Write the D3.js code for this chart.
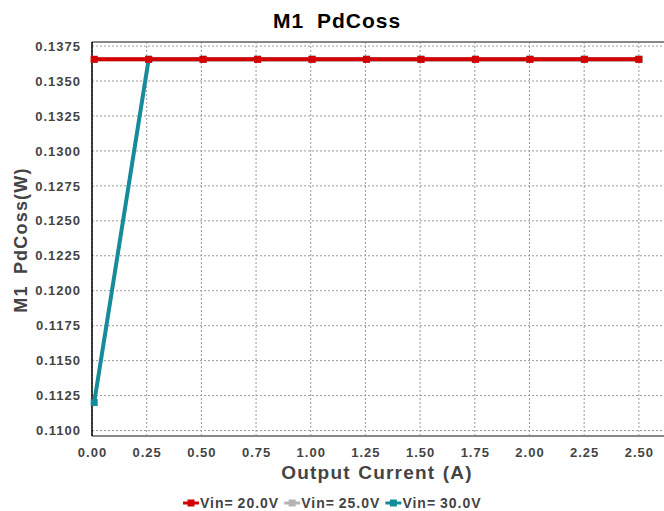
<html>
<head>
  <meta charset="UTF-8">
  <title>M1 PdCoss</title>
  <script src="https://d3js.org/d3.v7.min.js"></script>
  <style>
    body { margin: 0; background: #fff; }
    text { font-family: "Liberation Sans", Arial, sans-serif; font-weight: bold; }
  </style>
</head>
<body>
<svg id="chart" width="664" height="511"></svg>
<script>
  // data
  const current = [0.01, 0.259, 0.508, 0.757, 1.006, 1.255, 1.504, 1.753, 2.002, 2.251, 2.5];
  const vin20 = [0.13655, 0.13655, 0.13655, 0.13655, 0.13655, 0.13655, 0.13655, 0.13655, 0.13655, 0.13655, 0.13655];
  const vin25 = [0.13655, 0.13655, 0.13655, 0.13655, 0.13655, 0.13655, 0.13655, 0.13655, 0.13655, 0.13655, 0.13655];
  const vin30 = [0.1120, 0.13655, 0.13655, 0.13655, 0.13655, 0.13655, 0.13655, 0.13655, 0.13655, 0.13655, 0.13655];
  const seriesNames = ["Vin= 20.0V", "Vin= 25.0V", "Vin= 30.0V"];
  const seriesColors = ["#d40000", "#b4b4b4", "#168c9a"];
  const xTicks = [0, 0.25, 0.5, 0.75, 1.0, 1.25, 1.5, 1.75, 2.0, 2.25, 2.5];
  const yTicks = [0.11, 0.1125, 0.115, 0.1175, 0.12, 0.1225, 0.125, 0.1275, 0.13, 0.1325, 0.135, 0.1375];

  const svg = d3.select("#chart");
  const mLeft = 92, mRight = 664, mTop = 42, mBottom = 436;

  const x = d3.scaleLinear([0, 2.615], [mLeft, mRight]);
  const y = d3.scaleLinear([0.10961, 0.13779], [mBottom, mTop]);

  // grid
  const grid = svg.append("g");
  grid.selectAll("line.gx").data(xTicks).join("line")
      .attr("class", "gx")
      .attr("x1", d => x(d)).attr("x2", d => x(d))
      .attr("y1", mTop).attr("y2", mBottom)
      .attr("stroke", "#999").attr("stroke-dasharray", "2,2");
  grid.selectAll("line.gy").data(yTicks).join("line")
      .attr("class", "gy")
      .attr("x1", mLeft).attr("x2", mRight)
      .attr("y1", d => y(d)).attr("y2", d => y(d))
      .attr("stroke", "#999").attr("stroke-dasharray", "2,2");

  // frame
  svg.append("line").attr("x1", mLeft).attr("x2", mRight).attr("y1", mTop).attr("y2", mTop)
     .attr("stroke", "#888").attr("stroke-width", 2);
  svg.append("line").attr("x1", mLeft).attr("x2", mRight).attr("y1", mBottom).attr("y2", mBottom)
     .attr("stroke", "#888").attr("stroke-width", 2);
  svg.append("line").attr("x1", mLeft).attr("x2", mLeft).attr("y1", mTop).attr("y2", mBottom)
     .attr("stroke", "#000").attr("stroke-width", 1.5);

  // axes labels
  const xAxis = svg.append("g").attr("transform", `translate(0,${mBottom})`)
      .call(d3.axisBottom(x).tickValues(xTicks).tickFormat(d3.format(".2f")).tickSize(0).tickPadding(12));
  const yAxis = svg.append("g").attr("transform", `translate(${mLeft},0)`)
      .call(d3.axisLeft(y).tickValues(yTicks).tickFormat(d3.format(".4f")).tickSize(0).tickPadding(11));
  [xAxis, yAxis].forEach(a => {
    a.select(".domain").remove();
    a.selectAll("text").attr("fill", "#444").style("font-size", "13px").style("letter-spacing", "1px")
     .style("font-family", "'Liberation Sans', Arial, sans-serif").style("font-weight", "bold");
  });

  // series
  const allSeries = [vin20, vin25, vin30];
  const line = d3.line().x((d, i) => x(current[i])).y(d => y(d));
  const order = [2, 1, 0];
  order.forEach(k => {
    const g = svg.append("g");
    g.append("path").datum(allSeries[k])
     .attr("d", line).attr("fill", "none")
     .attr("stroke", seriesColors[k]).attr("stroke-width", 4);
    g.selectAll("rect").data(allSeries[k]).join("rect")
     .attr("x", (d, i) => x(current[i]) - 3.5).attr("y", d => y(d) - 3.5)
     .attr("width", 7).attr("height", 7)
     .attr("fill", seriesColors[k]);
  });

  // titles
  svg.append("text").attr("x", 337).attr("y", 28).attr("text-anchor", "middle")
     .style("font-size", "21px").style("letter-spacing", "1px").style("word-spacing", "6px")
     .attr("fill", "#000").text("M1 PdCoss");
  svg.append("text").attr("x", 377).attr("y", 479).attr("text-anchor", "middle")
     .style("font-size", "19px").style("letter-spacing", "1.2px").style("word-spacing", "1px")
     .attr("fill", "#444").text("Output Current (A)");
  svg.append("text").attr("transform", "translate(27,240) rotate(-90)").attr("text-anchor", "middle")
     .style("font-size", "18px").style("letter-spacing", "1.2px").style("word-spacing", "5px")
     .attr("fill", "#444").text("M1 PdCoss(W)");

  // legend
  const legend = svg.append("g").attr("transform", "translate(183,503)");
  let lx = 0;
  seriesNames.forEach((name, k) => {
    const item = legend.append("g").attr("transform", `translate(${lx},0)`);
    item.append("line").attr("x1", 0).attr("x2", 16).attr("y1", 0).attr("y2", 0)
        .attr("stroke", seriesColors[k]).attr("stroke-width", 3);
    item.append("rect").attr("x", 4.5).attr("y", -3.5).attr("width", 7).attr("height", 7)
        .attr("fill", seriesColors[k]);
    const t = item.append("text").attr("x", 17).attr("y", 5)
        .style("font-size", "14px").style("letter-spacing", "1px").style("word-spacing", "-1px")
        .attr("fill", "#444").text(name);
    lx += 17 + t.node().getComputedTextLength() + 5;
  });
</script>
</body>
</html>
